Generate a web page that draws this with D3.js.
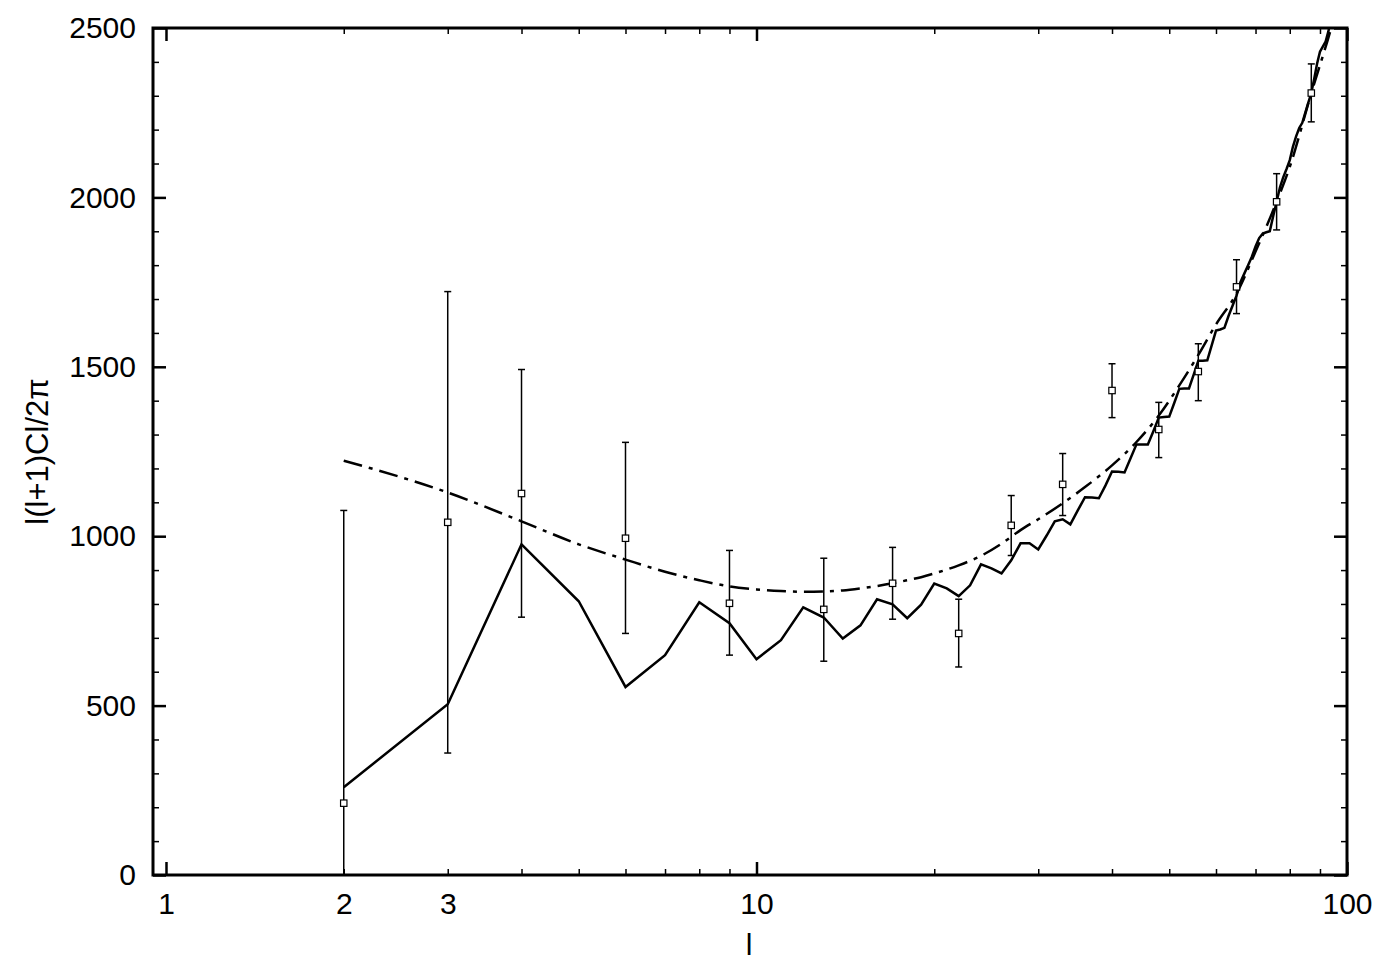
<!DOCTYPE html>
<html>
<head>
<meta charset="utf-8">
<script src="https://cdn.jsdelivr.net/npm/d3@7"></script>
<style>
html,body{margin:0;padding:0;background:#fff;}
text{font-family:"Liberation Sans",Arial,Helvetica,sans-serif;fill:#000;}
</style>
</head>
<body>
<svg id="chart" width="1389" height="972"></svg>
<script>
// ---- data ----
const binL    = [2,3,4,6,9,13,17,22,27,33,40,48,56,65,76,87];
const binV    = [212,1041,1126,994,802,784,861,713,1032,1153,1430,1315,1486,1736,1987,2308];
const binLow  = [0,360,761,713,649,631,755,614,943,1061,1350,1232,1400,1657,1904,2223];
const binHigh = [1076,1722,1492,1277,958,935,967,814,1120,1244,1509,1395,1568,1816,2070,2394];

const realL = [2,3,4,5,6,7,8,9,10,11,12,13,14,15,16,17,18,19,20,21,22,23,24,25,26,27,28,29,30,
  31,32,33,34,35,36,37,38,39,40,41,42,43,44,45,46,47,48,49,50,51,52,53,54,55,56,57,58,59,60,
  61,62,63,64,65,66,67,68,69,70,71,72,73,74,75,76,77,78,79,80,81,82,83,84,85,86,87,88,89,90,
  91,92,93,94,95];
const realV = [259,504,976,808,555,649,805,743,637,693,790,760,698,737,814,799,758,798,860,846,823,855,917,905,890,929,979,979,961,
  1002,1044,1050,1035,1076,1115,1114,1112,1150,1191,1190,1188,1230,1271,1271,1271,1310,1350,1352,1353,1394,1435,1436,1436,1477,1518,1518,1519,1563,1607,
  1610,1615,1650,1680,1710,1750,1775,1800,1825,1855,1880,1893,1897,1900,1945,1987,2030,2060,2084,2110,2150,2180,2205,2220,2250,2280,2308,2350,2395,2430,
  2445,2460,2490,2530,2570];

const theoL = [2,3,4,5,6,7,8,9,10,11,12,13,14,15,16,17,18,19,20,22,24,26,28,30,33,36,40,44,48,52,56,60,65,70,76,80,87,94,97];
const theoV = [1223,1129,1044,976,931,895,870,852,843,838,836,837,840,846,853,861,870,879,890,914,942,978,1018,1050,1097,1145,1209,1278,1356,1445,1535,1625,1716,1840,1987,2090,2308,2500,2590];

const xMajor = [1,10,100];
const xMinor = [2,3,4,5,6,7,8,9,20,30,40,50,60,70,80,90];
const xLabels = [1,2,3,10,100];
const yMajor = [0,500,1000,1500,2000,2500];
const yMinor = [100,200,300,400,600,700,800,900,1100,1200,1300,1400,1600,1700,1800,1900,2100,2200,2300,2400];

// ---- layout ----
const L = 153, R = 1347, T = 28, B = 875;
const svg = d3.select("#chart");
const x = d3.scaleLog().domain([0.9506, 100]).range([L, R]);
const y = d3.scaleLinear().domain([0, 2500]).range([B, T]);

svg.append("defs").append("clipPath").attr("id","clip")
  .append("rect").attr("x",L).attr("y",T).attr("width",R-L).attr("height",B-T);

function tickAxis(axisFn, scale, vals, size, width, labels, pad, tr){
  const g = svg.append("g").attr("transform", tr)
    .call(axisFn(scale).tickValues(vals).tickSize(size).tickPadding(pad)
      .tickFormat(d => labels && labels.includes(d) ? String(d) : ""));
  g.select(".domain").remove();
  g.selectAll(".tick line").attr("stroke","#000").attr("stroke-width",width);
  g.selectAll(".tick text").attr("font-size",30).attr("font-family","Liberation Sans, Arial, sans-serif");
  return g;
}
// bottom
tickAxis(d3.axisBottom, x, xMajor, -13, 2.5, xLabels, 18, `translate(0,${B})`);
tickAxis(d3.axisBottom, x, xMinor, -6, 1.5, xLabels, 18, `translate(0,${B})`);
// top
tickAxis(d3.axisTop, x, xMajor, -13, 2.5, null, 0, `translate(0,${T})`);
tickAxis(d3.axisTop, x, xMinor, -6, 1.5, null, 0, `translate(0,${T})`);
// left
tickAxis(d3.axisLeft, y, yMajor, -13, 2.5, yMajor, 17, `translate(${L},0)`);
tickAxis(d3.axisLeft, y, yMinor, -6, 1.5, null, 17, `translate(${L},0)`);
// right
tickAxis(d3.axisRight, y, yMajor, -13, 2.5, null, 0, `translate(${R},0)`);
tickAxis(d3.axisRight, y, yMinor, -6, 1.5, null, 0, `translate(${R},0)`);

const plot = svg.append("g").attr("clip-path","url(#clip)");

// error bars
const bins = binL.map((l,i)=>({l, v:binV[i], lo:binLow[i], hi:binHigh[i]}));
const eb = plot.append("g").attr("stroke","#000").attr("stroke-width",1.5);
eb.selectAll("line.v").data(bins).join("line").attr("class","v")
  .attr("x1",d=>x(d.l)).attr("x2",d=>x(d.l)).attr("y1",d=>y(d.lo)).attr("y2",d=>y(d.hi));
eb.selectAll("line.ch").data(bins).join("line").attr("class","ch")
  .attr("x1",d=>x(d.l)-3.5).attr("x2",d=>x(d.l)+3.5).attr("y1",d=>y(d.hi)).attr("y2",d=>y(d.hi));
eb.selectAll("line.cl").data(bins).join("line").attr("class","cl")
  .attr("x1",d=>x(d.l)-3.5).attr("x2",d=>x(d.l)+3.5).attr("y1",d=>y(d.lo)).attr("y2",d=>y(d.lo));

// theory dash-dot curve
const theo = theoL.map((l,i)=>[l,theoV[i]]);
plot.append("path").datum(theo)
  .attr("d", d3.line().x(d=>x(d[0])).y(d=>y(d[1])).curve(d3.curveMonotoneX))
  .attr("fill","none").attr("stroke","#000").attr("stroke-width",2.5)
  .attr("stroke-dasharray","19,7,4,7");

// realization solid line
const real = realL.map((l,i)=>[l,realV[i]]);
plot.append("path").datum(real)
  .attr("d", d3.line().x(d=>x(d[0])).y(d=>y(d[1])))
  .attr("fill","none").attr("stroke","#000").attr("stroke-width",2.5).attr("stroke-linejoin","miter");

// squares
plot.selectAll("rect.pt").data(bins).join("rect").attr("class","pt")
  .attr("x",d=>x(d.l)-3.2).attr("y",d=>y(d.v)-3.2).attr("width",6.4).attr("height",6.4)
  .attr("fill","#fff").attr("stroke","#000").attr("stroke-width",1.2);

// frame
svg.append("rect").attr("x",L).attr("y",T).attr("width",R-L).attr("height",B-T)
  .attr("fill","none").attr("stroke","#000").attr("stroke-width",3);

// axis titles
svg.append("text").attr("x",(L+R)/2 - 1).attr("y",955).attr("text-anchor","middle")
  .attr("font-size",30).text("l");
svg.append("text").attr("transform",`translate(48,${(T+B)/2}) rotate(-90)`)
  .attr("text-anchor","middle").attr("font-size",31).text("l(l+1)Cl/2π");
</script>
</body>
</html>
